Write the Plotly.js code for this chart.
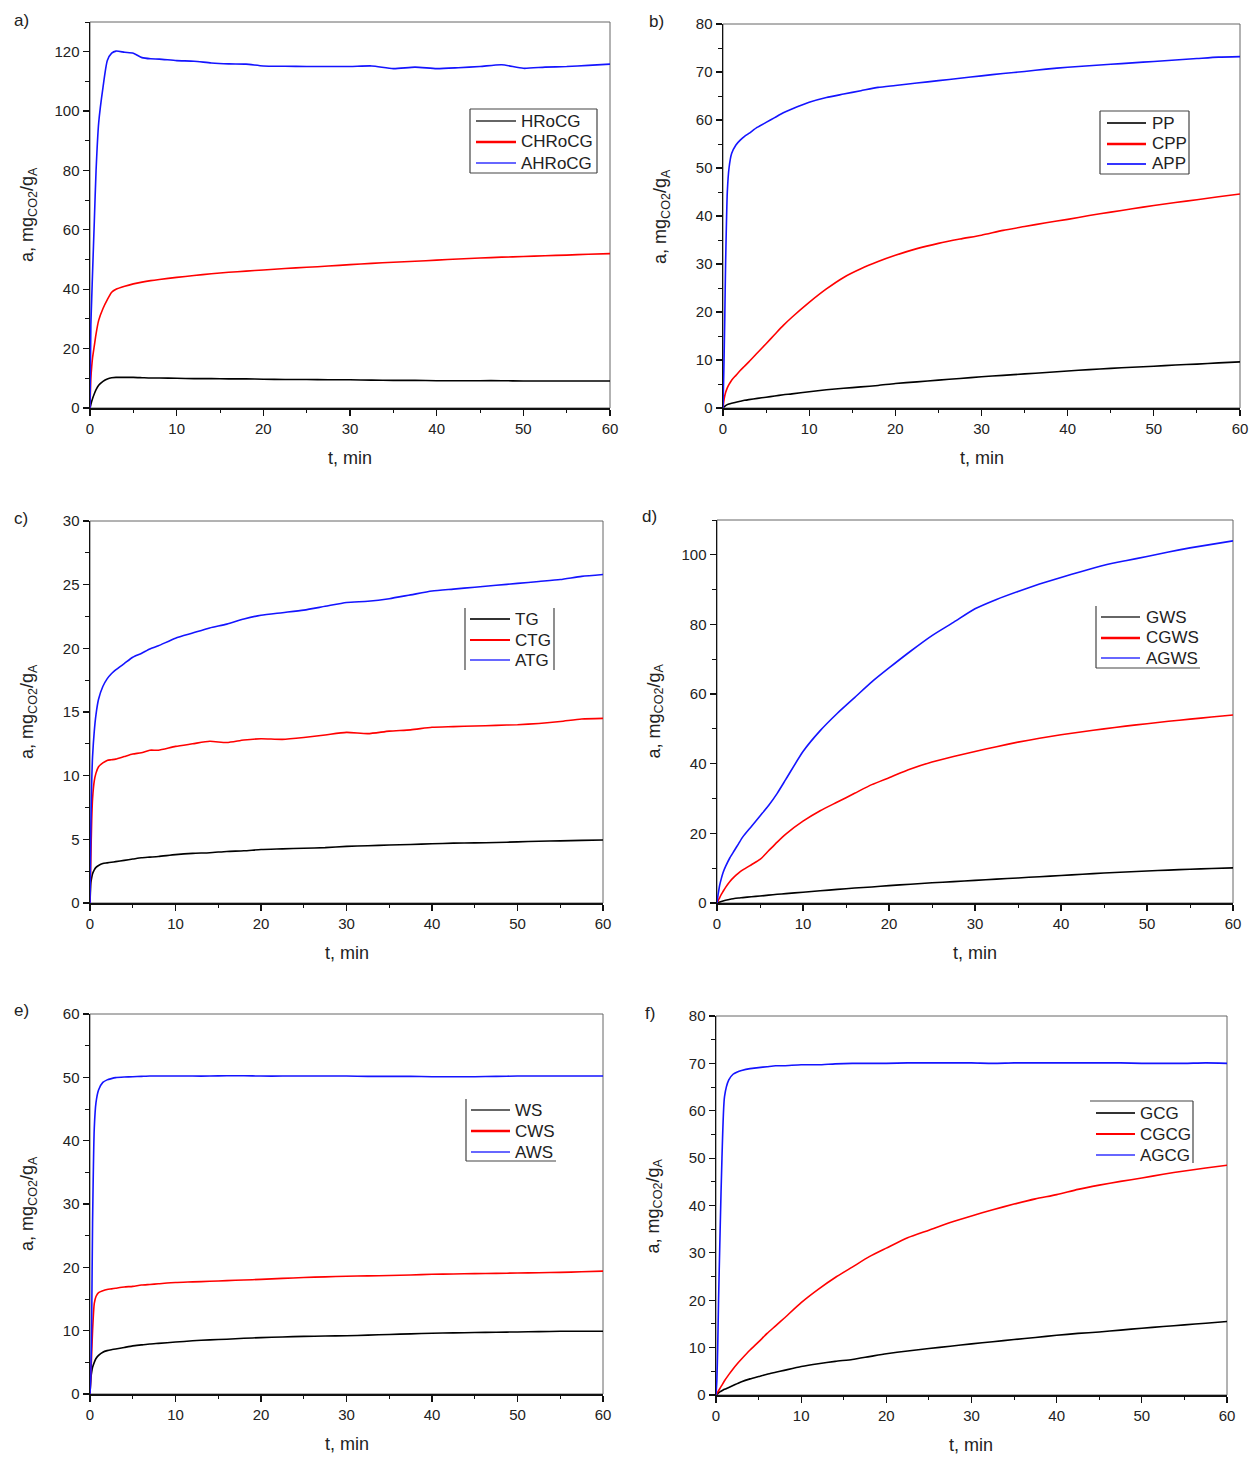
<!DOCTYPE html>
<html>
<head>
<meta charset="utf-8">
<script src="https://cdn.plot.ly/plotly-3.0.1.min.js"></script>
<style>
  html, body { margin: 0; padding: 0; background: #fff; }
  #chart { width: 1257px; height: 1470px; }
</style>
</head>
<body>
<div id="chart"></div>
<script>
// Sampling times (min), shared by all uptake curves
const T = [0, 0.1, 0.2, 0.3, 0.5, 0.7, 1, 1.5, 2, 2.5, 3, 4, 5, 6, 7, 8, 10, 12, 14, 16, 18, 20,
           22.5, 25, 27.5, 30, 32.5, 35, 37.5, 40, 42.5, 45, 47.5, 50, 52.5, 55, 57.5, 60];

// CO2 uptake a, mg CO2 / g adsorbent
// a) HRoCG series
const HRoCG  = [0, 1.2, 2.3, 3.2, 4.8, 6.2, 7.7, 9.0, 9.8, 10.2, 10.3, 10.3, 10.3, 10.2, 10.1, 10.1, 10.0, 9.9, 9.9, 9.8, 9.8, 9.7,
                9.6, 9.6, 9.5, 9.5, 9.4, 9.3, 9.3, 9.2, 9.2, 9.2, 9.2, 9.1, 9.1, 9.1, 9.1, 9.1];
const CHRoCG = [0, 10, 14, 17, 21, 25, 29.5, 33.5, 36.5, 39, 40, 41, 41.8, 42.4, 42.9, 43.3, 44, 44.6, 45.2, 45.7, 46.1, 46.5,
                47, 47.4, 47.8, 48.3, 48.7, 49.1, 49.4, 49.8, 50.2, 50.5, 50.8, 51, 51.3, 51.5, 51.8, 52];
const AHRoCG = [0, 28, 37, 46, 63, 80, 96, 108, 117, 119.5, 120.2, 119.8, 119.5, 118, 117.6, 117.5, 117, 116.8, 116.2, 115.9, 115.8, 115.2,
                115.1, 115, 115, 115, 115.2, 114.3, 114.8, 114.3, 114.6, 115, 115.6, 114.4, 114.8, 115, 115.4, 115.8];
// b) PP series
const PP  = [0, 0.2, 0.35, 0.5, 0.7, 0.85, 1.0, 1.2, 1.4, 1.6, 1.75, 2.0, 2.25, 2.5, 2.75, 2.95, 3.4, 3.8, 4.1, 4.4, 4.7, 5.1,
             5.45, 5.8, 6.15, 6.5, 6.8, 7.1, 7.4, 7.7, 8.0, 8.25, 8.5, 8.7, 8.95, 9.15, 9.4, 9.6];
const CPP = [0, 1.5, 2.5, 3.2, 4.2, 4.9, 5.8, 6.8, 7.8, 8.7, 9.6, 11.5, 13.4, 15.3, 17.2, 18.9, 22.0, 24.8, 27.2, 29.0, 30.5, 31.8,
             33.2, 34.3, 35.2, 36.0, 37.0, 37.8, 38.6, 39.3, 40.1, 40.8, 41.5, 42.2, 42.8, 43.4, 44.0, 44.6];
const APP = [0, 8, 18, 30, 45, 50, 53, 54.8, 55.8, 56.6, 57.2, 58.5, 59.5, 60.5, 61.5, 62.3, 63.7, 64.7, 65.4, 66.1, 66.8, 67.2,
             67.7, 68.2, 68.7, 69.2, 69.7, 70.1, 70.6, 71.0, 71.3, 71.6, 71.9, 72.2, 72.5, 72.8, 73.1, 73.2];
// c) TG series
const TG  = [0, 1.6, 2.0, 2.3, 2.6, 2.8, 2.95, 3.1, 3.15, 3.2, 3.25, 3.35, 3.45, 3.55, 3.6, 3.65, 3.8, 3.9, 3.95, 4.05, 4.1, 4.2,
             4.25, 4.3, 4.35, 4.45, 4.5, 4.55, 4.6, 4.65, 4.7, 4.72, 4.75, 4.8, 4.85, 4.88, 4.92, 4.95];
const CTG = [0, 3.5, 6.5, 8.2, 9.6, 10.2, 10.7, 11.0, 11.2, 11.25, 11.3, 11.5, 11.7, 11.8, 12.0, 12.0, 12.3, 12.5, 12.7, 12.6, 12.8, 12.9,
             12.85, 13.0, 13.2, 13.4, 13.3, 13.5, 13.6, 13.8, 13.85, 13.9, 13.95, 14.0, 14.1, 14.25, 14.45, 14.5];
const ATG = [0, 6, 9.5, 11.5, 13.5, 14.8, 16.0, 17.0, 17.6, 18.0, 18.3, 18.8, 19.3, 19.6, 19.95, 20.2, 20.8, 21.2, 21.6, 21.9, 22.3, 22.6,
             22.8, 23.0, 23.3, 23.6, 23.7, 23.9, 24.2, 24.5, 24.65, 24.8, 24.95, 25.1, 25.25, 25.4, 25.65, 25.8];
// d) GWS series
const GWS  = [0, 0.1, 0.2, 0.3, 0.45, 0.6, 0.8, 1.05, 1.3, 1.45, 1.55, 1.8, 2.0, 2.25, 2.5, 2.7, 3.1, 3.5, 3.9, 4.3, 4.6, 5.0,
              5.4, 5.8, 6.15, 6.5, 6.85, 7.2, 7.55, 7.9, 8.25, 8.6, 8.9, 9.2, 9.45, 9.7, 9.9, 10.1];
const CGWS = [0, 0.5, 1.0, 1.5, 2.5, 3.3, 4.5, 6.2, 7.5, 8.6, 9.5, 11, 12.5, 15, 17.5, 19.8, 23.5, 26.5, 29, 31.5, 34, 36,
              38.5, 40.5, 42.1, 43.5, 44.9, 46.2, 47.3, 48.3, 49.2, 50, 50.8, 51.5, 52.2, 52.8, 53.4, 54];
const AGWS = [0, 2, 3.5, 5, 7, 8.7, 10.5, 13, 15, 17, 19, 22, 25, 28, 31.5, 35.5, 43.5, 49.5, 54.5, 59, 63.5, 67.5,
              72.3, 76.8, 80.6, 84.5, 87.2, 89.5, 91.6, 93.5, 95.3, 97, 98.3, 99.5, 100.8, 102, 103, 104];
// e) WS series
const WS  = [0, 2.5, 3.5, 4.2, 5.0, 5.6, 6.1, 6.6, 6.85, 7.0, 7.1, 7.35, 7.6, 7.75, 7.9, 8.0, 8.2, 8.4, 8.55, 8.65, 8.8, 8.9,
             9.0, 9.1, 9.15, 9.2, 9.3, 9.4, 9.5, 9.6, 9.65, 9.7, 9.75, 9.8, 9.85, 9.9, 9.9, 9.9];
const CWS = [0, 3, 6.5, 10, 14.3, 15.4, 16.0, 16.3, 16.5, 16.6, 16.7, 16.9, 17.0, 17.2, 17.3, 17.4, 17.6, 17.7, 17.8, 17.9, 18.0, 18.1,
             18.25, 18.4, 18.5, 18.6, 18.65, 18.7, 18.8, 18.9, 18.95, 19.0, 19.05, 19.1, 19.15, 19.2, 19.3, 19.4];
const AWS = [0, 3, 12, 27, 42, 46, 48, 49.2, 49.6, 49.8, 49.95, 50.05, 50.1, 50.15, 50.2, 50.2, 50.2, 50.2, 50.2, 50.25, 50.25, 50.2,
             50.2, 50.2, 50.2, 50.2, 50.15, 50.15, 50.15, 50.1, 50.1, 50.1, 50.15, 50.2, 50.2, 50.2, 50.2, 50.2];
// f) GCG series
const GCG  = [0, 0.15, 0.3, 0.45, 0.7, 0.9, 1.2, 1.6, 2.0, 2.4, 2.8, 3.4, 3.9, 4.4, 4.8, 5.2, 6.0, 6.6, 7.1, 7.5, 8.1, 8.7,
              9.3, 9.8, 10.3, 10.8, 11.25, 11.7, 12.15, 12.6, 13.0, 13.3, 13.7, 14.1, 14.45, 14.8, 15.15, 15.5];
const CGCG = [0, 0.3, 0.6, 0.9, 1.5, 2.1, 3.0, 4.3, 5.5, 6.6, 7.6, 9.5, 11.2, 13.0, 14.6, 16.2, 19.5, 22.3, 24.8, 27.0, 29.2, 31.0,
              33.2, 34.8, 36.4, 37.8, 39.1, 40.3, 41.4, 42.3, 43.4, 44.3, 45.1, 45.8, 46.6, 47.3, 47.9, 48.5];
const AGCG = [0, 3, 10, 20, 36, 50, 63, 66.5, 67.7, 68.2, 68.5, 68.9, 69.1, 69.3, 69.5, 69.5, 69.7, 69.7, 69.9, 70.0, 70.0, 70.0,
              70.1, 70.1, 70.1, 70.1, 70.0, 70.1, 70.1, 70.1, 70.1, 70.1, 70.1, 70.0, 70.0, 70.0, 70.1, 70.0];

// Figure geometry (pixels) and panel settings
const W = 1257, H = 1470;
const px = x => x / W;
const py = y => 1 - y / H;

const COLORS = ['#000000', '#ff0000', '#1414ff'];
const KEY_COLORS = ['#333333', '#ff0000', '#3535ff'];
const FONT = 'Liberation Sans, Arial, Helvetica, sans-serif';

// box: [left, right, top, bottom] of the plot area
// key: sample line x-range, text x, row y positions, sample widths, frame sides
const panels = [
  { tag: 'a)', names: ['HRoCG', 'CHRoCG', 'AHRoCG'], data: [HRoCG, CHRoCG, AHRoCG],
    ymax: 130, dtick: 20, minor: 10, box: [90, 610, 22, 408], tagPos: [12, 20],
    key: { sx: [476, 516], tx: 519, rows: [121, 142, 163], widths: [1.3, 2.5, 1.3],
           frame: [[470, 109, 470, 173], [470, 173, 597, 173], [597, 173, 597, 109], [597, 109, 470, 109]] } },
  { tag: 'b)', names: ['PP', 'CPP', 'APP'], data: [PP, CPP, APP],
    ymax: 80, dtick: 10, minor: 5, box: [723, 1240, 24, 408], tagPos: [647, 22],
    key: { sx: [1107, 1146], tx: 1150, rows: [123, 144, 164], widths: [2, 2.5, 2],
           frame: [[1100, 111, 1100, 174], [1100, 174, 1189, 174], [1189, 174, 1189, 111], [1189, 111, 1100, 111]] } },
  { tag: 'c)', names: ['TG', 'CTG', 'ATG'], data: [TG, CTG, ATG],
    ymax: 30, dtick: 5, minor: 2.5, box: [90, 603, 521, 903], tagPos: [12, 518],
    key: { sx: [470, 510], tx: 513, rows: [619, 640, 660], widths: [2, 2, 1.3],
           frame: [[465, 608, 465, 670], [554, 608, 554, 670]] } },
  { tag: 'd)', names: ['GWS', 'CGWS', 'AGWS'], data: [GWS, CGWS, AGWS],
    ymax: 110, dtick: 20, minor: 10, box: [717, 1233, 520, 903], tagPos: [640, 516],
    key: { sx: [1101, 1140], tx: 1144, rows: [617, 638, 658], widths: [1.3, 2.5, 1.3],
           frame: [[1096, 606, 1096, 668], [1096, 668, 1200, 668]] } },
  { tag: 'e)', names: ['WS', 'CWS', 'AWS'], data: [WS, CWS, AWS],
    ymax: 60, dtick: 10, minor: 5, box: [90, 603, 1014, 1394], tagPos: [12, 1010],
    key: { sx: [471, 510], tx: 513, rows: [1110, 1131, 1152], widths: [1.3, 2.5, 1.3],
           frame: [[466, 1099, 466, 1161], [466, 1161, 556, 1161]] } },
  { tag: 'f)', names: ['GCG', 'CGCG', 'AGCG'], data: [GCG, CGCG, AGCG],
    ymax: 80, dtick: 10, minor: 5, box: [716, 1227, 1016, 1395], tagPos: [643, 1013],
    key: { sx: [1096, 1135], tx: 1138, rows: [1113, 1134, 1155], widths: [2, 2, 1.3],
           frame: [[1090, 1101, 1193, 1101], [1193, 1101, 1193, 1163]] } }
];

const traces = [];
const layout = {
  width: W, height: H,
  margin: { l: 0, r: 0, t: 0, b: 0 },
  paper_bgcolor: '#fff', plot_bgcolor: '#fff',
  font: { family: FONT, color: '#222' },
  showlegend: false,
  shapes: [], annotations: []
};

panels.forEach((p, i) => {
  const n = i + 1;
  const xa = n === 1 ? 'xaxis' : 'xaxis' + n;
  const ya = n === 1 ? 'yaxis' : 'yaxis' + n;
  const xr = n === 1 ? 'x' : 'x' + n;
  const yr = n === 1 ? 'y' : 'y' + n;
  const [x0, x1, y0, y1] = p.box;

  p.names.forEach((name, k) => {
    traces.push({
      type: 'scatter', mode: 'lines', x: T, y: p.data[k], name: name,
      xaxis: xr, yaxis: yr,
      line: { color: COLORS[k], width: 1.6, shape: 'spline', smoothing: 0.6 },
      hoverinfo: 'skip'
    });
  });

  const common = {
    showgrid: false, zeroline: false, showline: true, linecolor: '#111', linewidth: 1.5,
    ticks: 'outside', ticklen: 6, tickwidth: 1.2, tickcolor: '#111',
    tickfont: { family: FONT, size: 15, color: '#222' }, fixedrange: true
  };
  layout[xa] = Object.assign({}, common, {
    domain: [px(x0), px(x1)], anchor: yr, range: [0, 60], tick0: 0, dtick: 10,
    minor: { dtick: 5, ticks: 'outside', ticklen: 3.5, tickwidth: 1, tickcolor: '#111' }
  });
  layout[ya] = Object.assign({}, common, {
    domain: [py(y1), py(y0)], anchor: xr, range: [0, p.ymax], tick0: 0, dtick: p.dtick,
    minor: { dtick: p.minor, ticks: 'outside', ticklen: 3.5, tickwidth: 1, tickcolor: '#111' }
  });

  // light frame on the top and right sides
  layout.shapes.push({
    type: 'rect', xref: xr + ' domain', yref: yr + ' domain', x0: 0, x1: 1, y0: 0, y1: 1,
    line: { color: '#666', width: 1 }, layer: 'below'
  });

  // key: sample line + series name per row, with its frame segments
  const key = p.key;
  p.names.forEach((name, k) => {
    layout.shapes.push({
      type: 'line', xref: 'paper', yref: 'paper',
      x0: px(key.sx[0]), x1: px(key.sx[1]), y0: py(key.rows[k]), y1: py(key.rows[k]),
      line: { color: KEY_COLORS[k], width: key.widths[k] }
    });
    layout.annotations.push({
      text: name, showarrow: false, xref: 'paper', yref: 'paper',
      x: px(key.tx), y: py(key.rows[k]), xanchor: 'left', yanchor: 'middle',
      font: { family: FONT, size: 17, color: '#222' }
    });
  });
  key.frame.forEach(([ax, ay, bx, by]) => layout.shapes.push({
    type: 'line', xref: 'paper', yref: 'paper',
    x0: px(ax), y0: py(ay), x1: px(bx), y1: py(by), line: { color: '#444', width: 1.2 }
  }));

  // axis titles
  layout.annotations.push({
    text: 'a, mg<sub>CO2</sub>/g<sub>A</sub>', textangle: -90, showarrow: false,
    xref: xr + ' domain', yref: yr + ' domain', x: 0, y: 0.5, xshift: -62,
    xanchor: 'center', yanchor: 'middle', font: { family: FONT, size: 18, color: '#222' }
  });
  layout.annotations.push({
    text: 't, min', showarrow: false,
    xref: xr + ' domain', yref: yr + ' domain', x: 0.5, y: 0, yshift: -50,
    xanchor: 'center', yanchor: 'middle', font: { family: FONT, size: 18, color: '#222' }
  });
  // panel letter
  layout.annotations.push({
    text: p.tag, showarrow: false, xref: 'paper', yref: 'paper',
    x: px(p.tagPos[0]), y: py(p.tagPos[1]), xanchor: 'left', yanchor: 'middle',
    font: { family: FONT, size: 17, color: '#222' }
  });
});

Plotly.newPlot('chart', traces, layout, { displayModeBar: false, staticPlot: true });
</script>
</body>
</html>
